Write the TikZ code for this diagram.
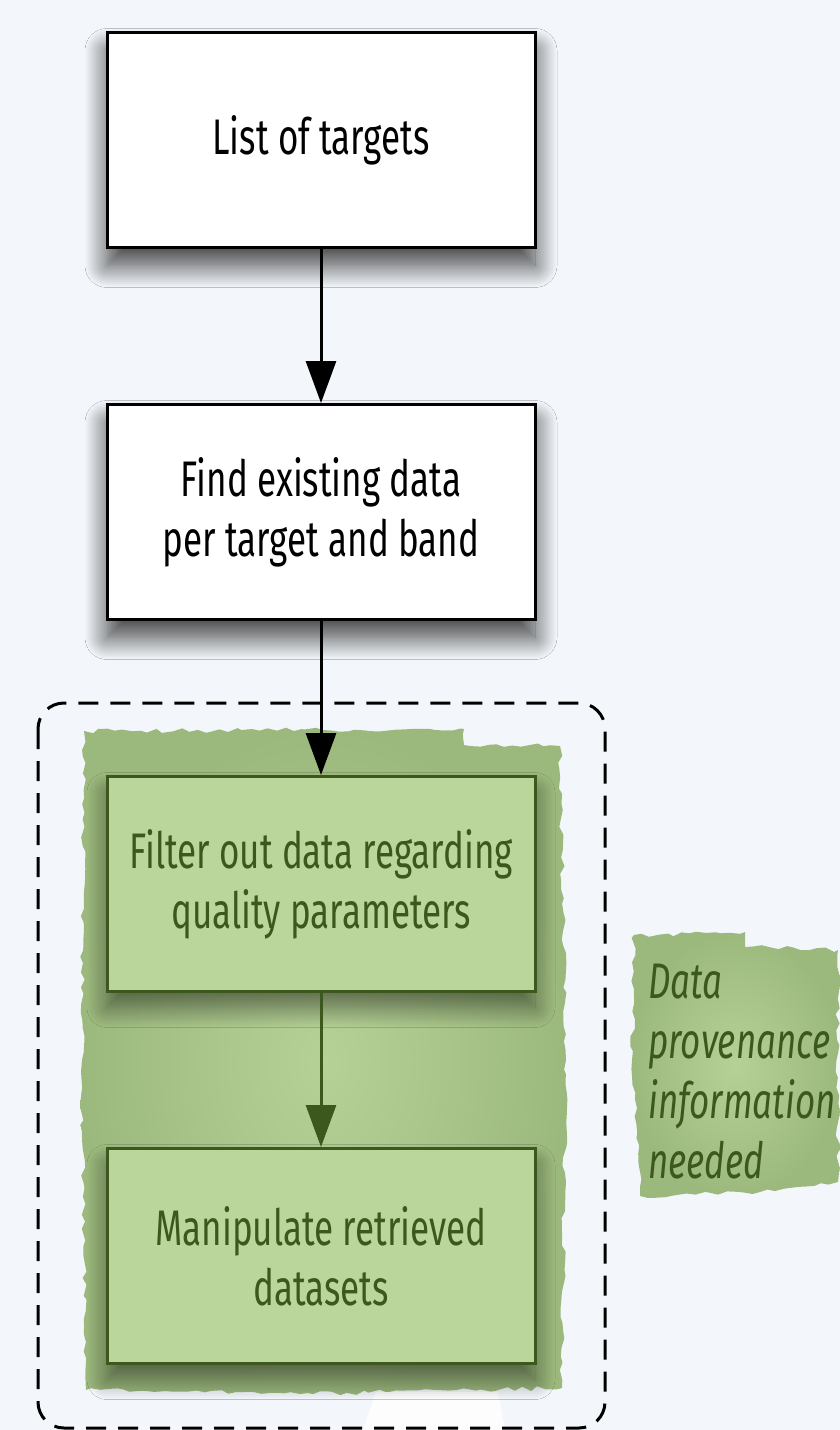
\documentclass[tikz,border=0pt]{standalone}
\usepackage{fontspec}
\setmainfont{Fira Sans}[FakeStretch=0.7]
\usetikzlibrary{arrows.meta,positioning,shadows.blur,decorations.pathmorphing}

\definecolor{bgpaper}{RGB}{243,247,251}
\definecolor{leafdark}{RGB}{60,88,28}
\definecolor{leaffill}{RGB}{187,214,155}
\definecolor{patchin}{RGB}{182,209,150}
\definecolor{patchout}{RGB}{156,185,125}

\begin{document}
\begin{tikzpicture}[
    x=0.5pt, y=-0.5pt,
    font=\fontsize{25}{30}\selectfont,
    node distance=77pt,
    box/.style={draw, line width=1.5pt, align=center, minimum width=214pt, minimum height=107.5pt, inner sep=0pt},
    plainbox/.style={box, fill=white, blur shadow={shadow xshift=0pt, shadow yshift=-9pt, shadow blur radius=11pt, shadow blur steps=24, shadow blur extra rounding=0pt, shadow opacity=75}},
    greenbox/.style={box, draw=leafdark, fill=leaffill, text=leafdark, blur shadow={shadow xshift=0pt, shadow yshift=-8pt, shadow blur radius=10pt, shadow blur steps=24, shadow blur extra rounding=0pt, shadow opacity=50}},
    arrow/.style={-{Triangle[length=21pt, width=15pt]}, line width=1.5pt},
    patch/.style={decorate, decoration={random steps, segment length=4pt, amplitude=1.2pt}, inner color=patchin, outer color=patchout}
]
\useasboundingbox (0,0) rectangle (840,1430);
\fill[bgpaper] (0,0) rectangle (840,1430);

% green backdrops
\shade[patch] (84,731) -- (464,729) -- (464,745) -- (560,746) -- (566,1060) -- (562,1388) -- (300,1394) -- (86,1390) -- (82,1060) -- cycle;
\shade[patch] (634,935) -- (745,932) -- (745,947) -- (838,950) -- (838,1182) -- (760,1192) -- (640,1196) -- (632,1060) -- cycle;
\fill[white, opacity=0.85] (376,1392) -- (498,1392) -- (505,1430) -- (363,1430) -- cycle;

\draw[dashed, dash pattern=on 10pt off 6pt, line width=1.5pt, rounded corners=13pt] (38,703) rectangle (605,1428);

\node[plainbox] (targets) at (321,140) {List of targets};
\node[plainbox, below=of targets] (finddata) {Find existing data\\per target and band};
\node[greenbox, below=of finddata] (filterdata) {Filter out data regarding\\quality parameters};
\node[greenbox, below=of filterdata] (manipulate) {Manipulate retrieved\\datasets};

\node[anchor=north west, inner sep=0pt, align=left, text=leafdark, font=\fontsize{25}{30}\selectfont\itshape] (provenance) at (648,964) {Data\\provenance\\information\\needed};

\draw[arrow] (targets) -- (finddata);
\draw[arrow] (finddata) -- (filterdata);
\draw[arrow, leafdark] (filterdata) -- (manipulate);
\end{tikzpicture}
\end{document}
